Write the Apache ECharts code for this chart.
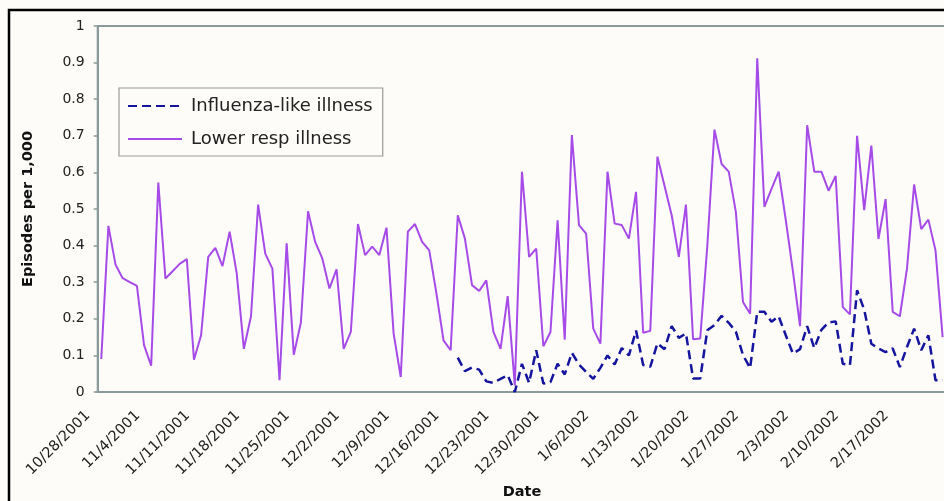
<!DOCTYPE html>
<html><head><meta charset="utf-8">
<script src="https://cdn.jsdelivr.net/npm/echarts@6/dist/echarts.min.js"></script>
<style>html,body{margin:0;padding:0;background:#fff}#c{width:944px;height:501px}</style>
</head><body><div id="c"></div>
<script>
// Categories: daily dates starting 10/28/2001
const firstDay = new Date(2001, 9, 28);
const dayCount = 119;
const dates = [];
for (let i = 0; i < dayCount; i++) {
  const d = new Date(firstDay.getFullYear(), firstDay.getMonth(), firstDay.getDate() + i);
  dates.push((d.getMonth() + 1) + '/' + d.getDate() + '/' + d.getFullYear());
}

const seriesNames = ['Influenza-like illness', 'Lower resp illness'];

// Lower respiratory illness, episodes per 1,000 (one per day)
const lowerResp = [
  0.09, 0.454, 0.348, 0.311, 0.30, 0.29, 0.128, 0.072, 0.572, 0.31,
  0.33, 0.35, 0.363, 0.088, 0.155, 0.369, 0.394, 0.344, 0.438, 0.324,
  0.118, 0.207, 0.512, 0.378, 0.337, 0.032, 0.406, 0.102, 0.19, 0.494,
  0.41, 0.365, 0.283, 0.335, 0.118, 0.164, 0.459, 0.374, 0.397, 0.374,
  0.449, 0.16, 0.041, 0.438, 0.459, 0.41, 0.387, 0.27, 0.141, 0.114,
  0.483, 0.419, 0.292, 0.276, 0.305, 0.164, 0.118, 0.262, 0.018, 0.602,
  0.369, 0.392, 0.125, 0.164, 0.469, 0.143, 0.702, 0.456, 0.433, 0.173,
  0.132, 0.602, 0.46, 0.456, 0.419, 0.547, 0.162, 0.167, 0.643, 0.563,
  0.483, 0.369, 0.512, 0.144, 0.146, 0.40, 0.717, 0.623, 0.602, 0.492,
  0.246, 0.214, 0.912, 0.506, 0.555, 0.602, 0.47, 0.33, 0.18, 0.729,
  0.602, 0.602, 0.55, 0.59, 0.232, 0.212, 0.70, 0.497, 0.673, 0.418,
  0.527, 0.219, 0.207, 0.337, 0.567, 0.445, 0.471, 0.387, 0.15
];

// Influenza-like illness, reported from 12/17/2001 on
const fluStartIndex = 50;
const influenza = [
  0.094, 0.057, 0.067, 0.061, 0.029, 0.025, 0.036, 0.046, 0.0, 0.077,
  0.025, 0.114, 0.023, 0.027, 0.077, 0.048, 0.107, 0.075, 0.055, 0.036,
  0.066, 0.10, 0.075, 0.12, 0.10, 0.168, 0.074, 0.069, 0.133, 0.117,
  0.18, 0.148, 0.16, 0.037, 0.037, 0.169, 0.183, 0.208, 0.189, 0.165,
  0.101, 0.065, 0.219, 0.219, 0.192, 0.207, 0.155, 0.105, 0.117, 0.18,
  0.12, 0.17, 0.19, 0.193, 0.077, 0.073, 0.278, 0.225, 0.132, 0.119,
  0.109, 0.119, 0.068, 0.123, 0.173, 0.114, 0.155, 0.032, 0.032
];

const yTickLabels = ['0', '0.1', '0.2', '0.3', '0.4', '0.5', '0.6', '0.7', '0.8', '0.9', '1'];

const fluData = dates.map((_, i) => (i >= fluStartIndex ? influenza[i - fluStartIndex] : null));

const axisColor = '#8a9a9a';
const font = 'DejaVu Sans';

const chart = echarts.init(document.getElementById('c'), null, { renderer: 'canvas' });
chart.setOption({
  animation: false,
  backgroundColor: '#fdfcf9',
  textStyle: { fontFamily: font },
  grid: {
    left: 97.7, top: 26, width: 848.5, height: 366,
    outerBoundsMode: 'none', containLabel: false,
    show: true, borderColor: axisColor, borderWidth: 2, backgroundColor: 'transparent'
  },
  legend: {
    orient: 'vertical', left: 119, top: 88,
    itemWidth: 54, itemHeight: 14, itemGap: 15,
    padding: [9, 10, 8, 8],
    borderColor: '#9a9a9a', borderWidth: 1.2,
    itemStyle: { color: 'transparent', borderWidth: 0, borderColor: 'transparent' },
    textStyle: { fontSize: 18, color: '#222', fontFamily: font, padding: [0, 0, 0, 4] },
    data: seriesNames
  },
  xAxis: {
    type: 'category', data: dates, boundaryGap: true,
    axisLine: { lineStyle: { color: axisColor, width: 2 } },
    axisTick: { interval: 6, length: 5, lineStyle: { color: axisColor, width: 1.5 } },
    axisLabel: { interval: 6, rotate: 45, fontSize: 14.5, color: '#222', margin: 8, padding: [0, 19, 0, 0] },
    name: 'Date', nameLocation: 'middle', nameGap: 92,
    nameTextStyle: { fontWeight: 'bold', fontSize: 14.5, color: '#111', fontFamily: font }
  },
  yAxis: {
    type: 'value', min: 0, max: 1, interval: 0.1,
    splitLine: { show: false },
    axisLine: { show: true, lineStyle: { color: axisColor, width: 2 } },
    axisTick: { show: true, length: 4, lineStyle: { color: axisColor, width: 1.5 } },
    axisLabel: { fontSize: 14, color: '#222', margin: 13,
      formatter: v => yTickLabels[Math.round(v * 10)] },
    name: 'Episodes per 1,000', nameLocation: 'middle', nameGap: 62,
    nameTextStyle: { fontWeight: 'bold', fontSize: 14.5, color: '#111', fontFamily: font }
  },
  graphic: [{
    type: 'rect', silent: true, z: 100,
    shape: { x: 9, y: 10, width: 960, height: 520 },
    style: { fill: null, stroke: '#000', lineWidth: 2.5 }
  }],
  series: [
    {
      name: seriesNames[0], type: 'line', data: fluData, z: 3,
      symbol: 'none', connectNulls: false,
      lineStyle: { color: '#14149e', width: 2.5, type: [9, 5] },
      itemStyle: { color: '#14149e' }
    },
    {
      name: seriesNames[1], type: 'line', data: lowerResp, z: 2,
      symbol: 'none',
      lineStyle: { color: '#a64be8', width: 2 },
      itemStyle: { color: '#a64be8' }
    }
  ]
});
</script>
</body></html>
